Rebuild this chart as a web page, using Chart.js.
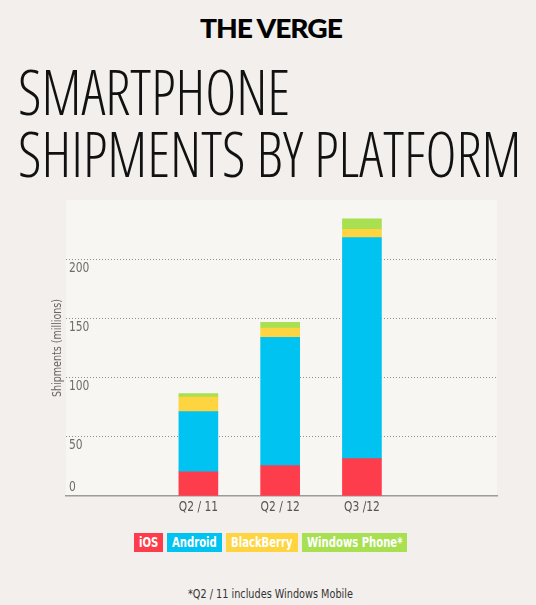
<!DOCTYPE html>
<html>
<head>
<meta charset="utf-8">
<script src="https://cdn.jsdelivr.net/npm/chart.js@4.4.0/dist/chart.umd.min.js"></script>
<style>
  html, body { margin: 0; padding: 0; background: #f3efec; }
  body { width: 536px; height: 605px; position: relative; overflow: hidden; }
  .fit { position: absolute; white-space: nowrap; transform-origin: 0 0; }
  #logo { font-family: "Lato", "Roboto", sans-serif; font-weight: 900; font-size: 27px; line-height: 27px; color: #000; letter-spacing: -1px; }
  .title { font-family: "Open Sans", "Roboto", sans-serif; font-stretch: condensed; font-weight: 300; font-size: 62px; line-height: 62px; color: #111; left: 18px; }
  #chartBox { position: absolute; left: 0; top: 190px; width: 536px; height: 340px; }
  #legend { position: absolute; top: 533px; left: 134px; display: flex; gap: 4px; }
  #legend span { display: block; height: 19px; line-height: 19px; padding: 0 5px; color: #fff; font-family: "Liberation Sans Narrow", "DejaVu Sans Condensed", sans-serif; font-size: 14px; font-weight: bold; overflow: hidden; white-space: nowrap; }
  #legend i { font-style: normal; display: inline-block; transform-origin: 0 50%; }
  #note { font-family: "Liberation Sans Narrow", "DejaVu Sans Condensed", sans-serif; font-size: 13px; line-height: 16px; color: #333; top: 586px; }
</style>
</head>
<body>
<div id="logo" class="fit" style="top:14px">THE VERGE</div>
<div id="t1" class="fit title" style="top:60px">SMARTPHONE</div>
<div id="t2" class="fit title" style="top:122px">SHIPMENTS BY PLATFORM</div>
<div id="chartBox"><canvas id="shipChart"></canvas></div>
<div id="legend"></div>
<div id="note" class="fit">*Q2 / 11 includes Windows Mobile</div>

<script>
// --- data (millions of units) ---
const quarters = ['Q2 / 11', 'Q2 / 12', 'Q3 /12'];
const ios = [20.5, 25.6, 31.5];
const android = [50.7, 108.4, 186.7];
const blackberry = [12.4, 7.9, 7.0];
const windowsPhone = [2.8, 4.8, 9.0];
const yTicks = [0, 50, 100, 150, 200];

const platforms = ['iOS', 'Android', 'BlackBerry', 'Windows Phone*'];
const colors = ['#fe3d4c', '#00c3f1', '#fed440', '#a8e052'];
const series = [ios, android, blackberry, windowsPhone];

// no narrow font installed, so squeeze text horizontally to match widths
function squeezeTo(el, width, left) {
    const k = width / el.offsetWidth;
    el.style.left = left + 'px';
    el.style.transform = 'scaleX(' + k + ')';
    return k;
}
squeezeTo(document.getElementById('logo'), 142, 200);
const titleK = 503 / document.getElementById('t2').offsetWidth;
document.querySelectorAll('.title').forEach(el => {
    el.style.transform = 'scaleX(' + titleK + ')';
});
squeezeTo(document.getElementById('note'), 165, 188);

// legend boxes
const TEXT_SQUEEZE = 0.8;
const legend = document.getElementById('legend');
platforms.forEach((name, i) => {
    const sp = document.createElement('span');
    const txt = document.createElement('i');
    txt.textContent = name;
    sp.appendChild(txt);
    sp.style.background = colors[i];
    legend.appendChild(sp);
    const w = txt.offsetWidth;
    txt.style.transform = 'scaleX(' + TEXT_SQUEEZE + ')';
    sp.style.width = Math.round(w * TEXT_SQUEEZE) + 'px';
});

const LABEL_FONT = '"Liberation Sans Narrow", "DejaVu Sans Condensed", sans-serif';

function narrowText(c, text, x, y, k) {
    c.save();
    c.translate(x, y);
    c.scale(k, 1);
    c.fillText(text, 0, 0);
    c.restore();
}

// plot background + axis labels placed like the original
const vergePlugin = {
    id: 'vergeLook',
    beforeDraw(chart) {
        const a = chart.chartArea;
        const c = chart.ctx;
        c.save();
        c.fillStyle = '#f7f6f3';
        c.fillRect(a.left, a.top, a.right - a.left, a.bottom - a.top);
        c.restore();
    },
    afterDraw(chart) {
        const a = chart.chartArea;
        const c = chart.ctx;
        const yS = chart.scales.y;
        const xS = chart.scales.x;
        c.save();
        c.fillStyle = '#6d6d6d';
        c.font = '14px ' + LABEL_FONT;
        c.textAlign = 'left';
        c.textBaseline = 'middle';
        yTicks.forEach(v => {
            const py = yS.getPixelForValue(v);
            narrowText(c, String(v), a.left + 3, v === 0 ? py - 9 : py + 9, 0.85);
        });

        c.textAlign = 'center';
        c.fillStyle = '#555';
        quarters.forEach((q, i) => {
            narrowText(c, q, xS.getPixelForValue(i + 1), a.bottom + 11, 0.85);
        });

        c.translate(a.left - 8, (a.top + a.bottom) / 2);
        c.rotate(-Math.PI / 2);
        c.fillStyle = '#666';
        c.font = '12.5px ' + LABEL_FONT;
        narrowText(c, 'Shipments (millions)', 0, 0, 0.85);
        c.restore();
    }
};

const ctx = document.getElementById('shipChart').getContext('2d');
const shipChart = new Chart(ctx, {
    type: 'bar',
    data: {
        datasets: platforms.map((name, i) => ({
            label: name,
            data: series[i].map((v, j) => ({ x: j + 1, y: v })),
            backgroundColor: colors[i],
            borderWidth: 0,
            barThickness: 39
        }))
    },
    options: {
        responsive: true,
        maintainAspectRatio: false,
        animation: false,
        layout: { padding: { left: 66, top: 10, right: 39, bottom: 34 } },
        plugins: {
            legend: { display: false },
            tooltip: { enabled: false }
        },
        scales: {
            x: {
                type: 'linear',
                stacked: true,
                min: -0.326,
                max: 4.359,
                ticks: { display: false },
                grid: { display: false },
                border: { display: true, color: '#9c9c9c', width: 1.5 },
                afterFit: s => { s.height = 0; }
            },
            y: {
                stacked: true,
                min: 0,
                max: 250,
                ticks: { display: false, stepSize: 50 },
                grid: {
                    drawTicks: false,
                    color: c => (c.tick && c.tick.value > 0 && c.tick.value < 250) ? '#8f8f8f' : 'rgba(0,0,0,0)',
                    lineWidth: 1
                },
                border: { display: false, dash: [1, 2] },
                afterFit: s => { s.width = 0; }
            }
        }
    },
    plugins: [vergePlugin]
});
</script>
</body>
</html>
